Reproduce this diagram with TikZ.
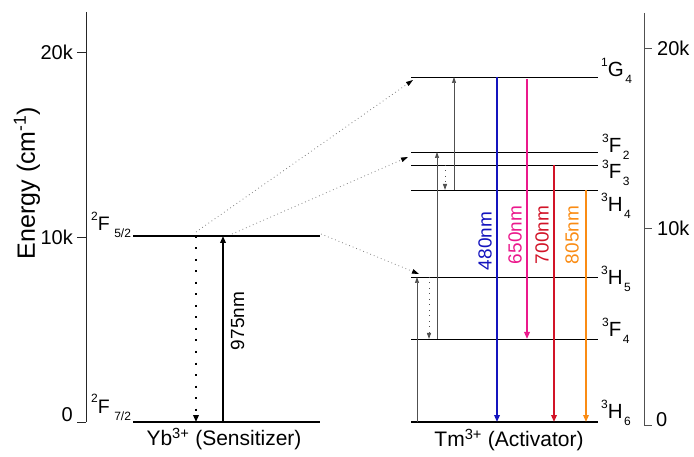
\documentclass[tikz,border=0pt]{standalone}
\usepackage{fontspec}
\setmainfont{Liberation Sans}
\usetikzlibrary{arrows.meta}

\definecolor{blueem}{RGB}{20,20,190}
\definecolor{pinkem}{RGB}{235,25,140}
\definecolor{redem}{RGB}{210,20,40}
\definecolor{orangeem}{RGB}{250,140,20}
\definecolor{axisgray}{RGB}{80,80,80}

% spectroscopic term: left superscript, letter, right subscript
\newcommand{\lvlterm}[3]{{\fontsize{12}{12}\selectfont\raisebox{10pt}{#1}}#2\hspace{1.5pt}{\fontsize{12}{12}\selectfont\raisebox{-7pt}{#3}}}

\begin{document}
\begin{tikzpicture}[x=1pt,y=-1pt,
  font=\fontsize{19}{22}\selectfont,
  axisline/.style={line width=0.8pt,black!85},
  raxisline/.style={line width=0.8pt,axisgray},
  ticklabel/.style={font=\fontsize{20}{22}\selectfont,inner sep=0pt},
  termlabel/.style={anchor=base west,inner sep=0pt,font=\fontsize{20.5}{22}\selectfont},
  thinlevel/.style={line width=0.8pt,black},
  thicklevel/.style={line width=1.8pt,black},
  emit/.style={line width=1.8pt,-{Triangle[length=7pt,width=5.5pt]}},
  wavelabel/.style={rotate=90,inner sep=0pt,font=\fontsize{19}{22}\selectfont},
  pump/.style={line width=0.7pt,axisgray,-{Triangle[length=6pt,width=4pt]}},
  relax/.style={line width=1pt,axisgray,dash pattern=on 1pt off 4.5pt,-{Triangle[length=6pt,width=4pt]}},
  transfer/.style={line width=0.8pt,black!50,dash pattern=on 0.8pt off 3pt,-{Triangle[length=7pt,width=4.5pt,color=black]}},
  caption/.style={inner sep=0pt,font=\fontsize{21}{24}\selectfont}]
\useasboundingbox (0,0) rectangle (694,457);

% ---------- left energy axis ----------
\coordinate (lAxTop) at (86,12);
\coordinate (lAxBot) at (86,422);
\coordinate (lT20) at (86,52);
\coordinate (lT10) at (86,237);
\draw[axisline] (lAxTop) -- (lAxBot);
\draw[axisline] (lT20) -- +(-9,0);
\draw[axisline] (lT10) -- +(-9,0);
\draw[axisline] (lAxBot) -- +(-9,0);
\node[ticklabel,anchor=east] (l20) at (73,52) {20k};
\node[ticklabel,anchor=east] (l10) at (73,237) {10k};
\node[ticklabel,anchor=south east] (l0) at (73,422) {0};
\node[rotate=90,inner sep=0pt,font=\fontsize{25}{28}\selectfont] (elabel) at (27,183) {Energy (cm\textsuperscript{-1})};

% ---------- right energy axis ----------
\coordinate (rAxTop) at (644,13);
\coordinate (rAxBot) at (644,425);
\coordinate (rT20) at (644,48);
\coordinate (rT10) at (644,228);
\draw[raxisline] (rAxTop) -- (rAxBot);
\draw[raxisline] (rT20) -- +(8,0);
\draw[raxisline] (rT10) -- +(8,0);
\draw[raxisline] (rAxBot) -- +(8,0);
\node[ticklabel,anchor=west] (r20) at (657,48) {20k};
\node[ticklabel,anchor=west] (r10) at (657,228) {10k};
\node[ticklabel,anchor=west] (r0) at (656,420) {0};

% ---------- Yb3+ levels ----------
\coordinate (F52a) at (133,236);
\coordinate (F52b) at (320,236);
\coordinate (F72a) at (133,422);
\coordinate (F72b) at (320,422);
\draw[thicklevel] (F52a) -- (F52b);
\draw[thicklevel] (F72a) -- (F72b);
\node[termlabel,font=\fontsize{19.5}{22}\selectfont] (tF52) at (91,231) {\lvlterm{2}{F}{\hspace{3pt}5/2}};
\node[termlabel,font=\fontsize{19.5}{22}\selectfont] (tF72) at (91,413) {\lvlterm{2}{F}{\hspace{3pt}7/2}};

% absorption and back-relaxation of Yb3+
\coordinate (xAbs) at (223,0);
\coordinate (xBack) at (196,0);
\draw[line width=1.8pt,-{Triangle[length=7pt,width=5.5pt]}] (xAbs |- F72a) -- (xAbs |- F52a);
\draw[line width=2pt,dash pattern=on 2pt off 9.5pt,-{Triangle[length=7pt,width=5.5pt]}] (xBack |- F52a) -- (xBack |- F72a);
\node[wavelabel] (w975) at (237.5,321) {975nm};
\node[caption] (ybcap) at (224,439) {Yb\textsuperscript{3+} (Sensitizer)};

% ---------- Tm3+ levels ----------
\coordinate (G4a) at (411,77);   \coordinate (G4b) at (598,77);
\coordinate (F2a) at (411,152);  \coordinate (F2b) at (598,152);
\coordinate (F3a) at (411,165);  \coordinate (F3b) at (598,165);
\coordinate (H4a) at (411,190);  \coordinate (H4b) at (598,190);
\coordinate (H5a) at (411,277);  \coordinate (H5b) at (598,277);
\coordinate (F4a) at (411,339);  \coordinate (F4b) at (598,339);
\coordinate (H6a) at (411,422);  \coordinate (H6b) at (598,422);
\draw[thinlevel] (G4a) -- (G4b);
\draw[thinlevel] (F2a) -- (F2b);
\draw[thinlevel] (F3a) -- (F3b);
\draw[thinlevel] (H4a) -- (H4b);
\draw[thinlevel] (H5a) -- (H5b);
\draw[thinlevel] (F4a) -- (F4b);
\draw[thicklevel] (H6a) -- (H6b);

\node[termlabel] (tG4) at (601,77)  {\lvlterm{1}{G}{4}};
\node[termlabel] (tF2) at (602,153) {\lvlterm{3}{F}{2}};
\node[termlabel] (tF3) at (602,179) {\lvlterm{3}{F}{3}};
\node[termlabel] (tH4) at (601,212) {\lvlterm{3}{H}{4}};
\node[termlabel] (tH5) at (601,285) {\lvlterm{3}{H}{5}};
\node[termlabel] (tF4) at (602,337) {\lvlterm{3}{F}{4}};
\node[termlabel] (tH6) at (601,418) {\lvlterm{3}{H}{6}};
\node[caption] (tmcap) at (509,440) {Tm\textsuperscript{3+} (Activator)};

% upconversion steps within Tm3+
\coordinate (xP1) at (417,0);
\coordinate (xR1) at (429,0);
\coordinate (xP2) at (437,0);
\coordinate (xR2) at (445,0);
\coordinate (xP3) at (454,0);
\draw[pump] (xP1 |- H6a) -- (xP1 |- H5a);
\draw[relax] (xR1 |- H5a) -- (xR1 |- F4a);
\draw[pump] (xP2 |- F4a) -- (xP2 |- F2a);
\draw[relax] (xR2 |- F3a) -- (xR2 |- H4a);
\draw[pump] (xP3 |- H4a) -- (xP3 |- G4a);

% emissions
\coordinate (xBlue) at (497,0);
\coordinate (xPink) at (527,0);
\coordinate (xRed) at (554,0);
\coordinate (xOrange) at (586,0);
\draw[emit,blueem] (xBlue |- G4a) -- (xBlue |- H6a);
\draw[emit,pinkem] ([yshift=-2pt]xPink |- G4a) -- (xPink |- F4a);
\draw[emit,redem] (xRed |- F3a) -- (xRed |- H6a);
\draw[emit,orangeem] (xOrange |- H4a) -- (xOrange |- H6a);
\node[wavelabel,blueem] (w480) at (485,241) {480nm};
\node[wavelabel,pinkem] (w650) at (515,235) {650nm};
\node[wavelabel,redem] (w700) at (542,235) {700nm};
\node[wavelabel,orangeem] (w805) at (572,235) {805nm};

% ---------- energy transfer Yb -> Tm ----------
\coordinate (et1s) at (196,232);
\coordinate (et1e) at (413,80);
\coordinate (et2s) at (232,234);
\coordinate (et2e) at (408,157);
\coordinate (et3s) at (321,234);
\coordinate (et3e) at (419,274);
\draw[transfer] (et1s) -- (et1e);
\draw[transfer] (et2s) -- (et2e);
\draw[transfer] (et3s) -- (et3e);
\end{tikzpicture}
\end{document}
